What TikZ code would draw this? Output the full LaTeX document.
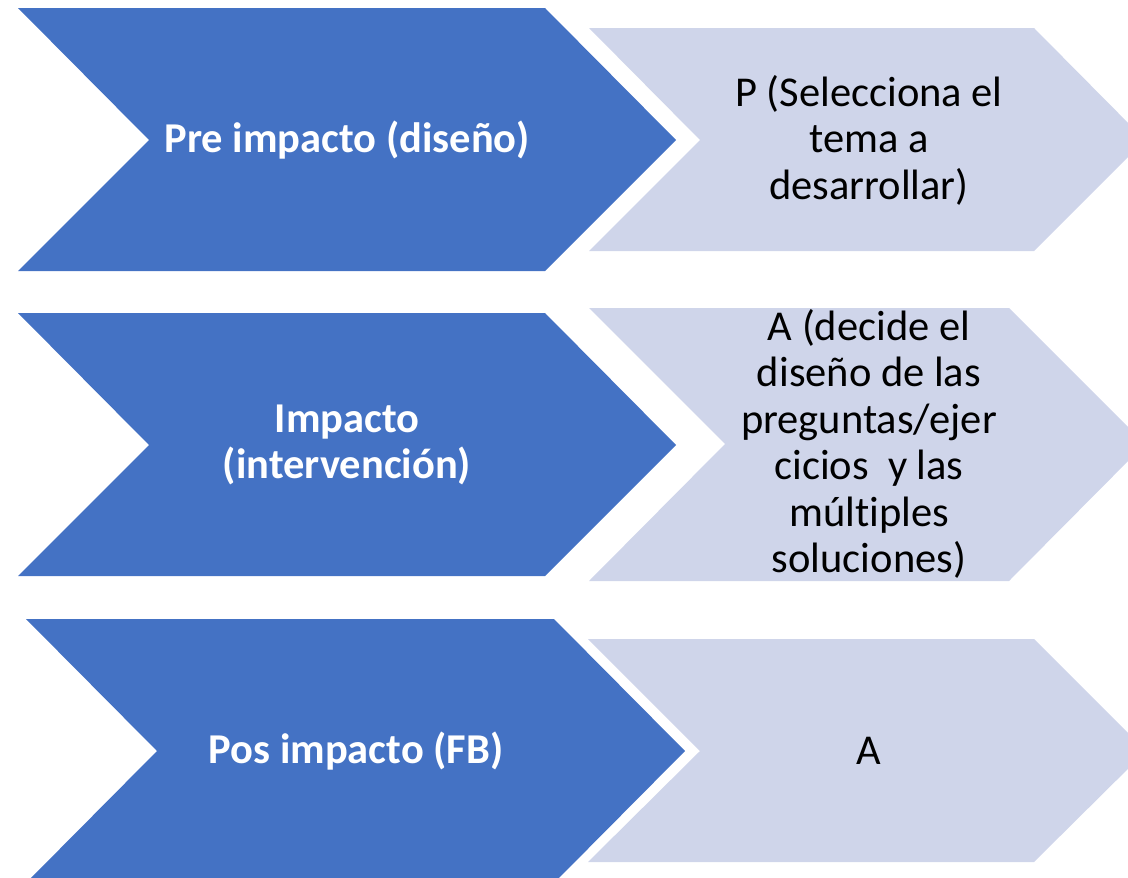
\documentclass[tikz,border=0pt]{standalone}
\usepackage{fontspec}
\setmainfont[Ligatures=NoCommon]{Carlito}
\definecolor{chevblue}{HTML}{4472C4}
\definecolor{chevlight}{HTML}{CFD5EA}
\tikzset{
  steptext/.style={font=\fontsize{42.5}{46.5}\selectfont, align=center, inner sep=0pt},
  phasetext/.style={steptext, font=\fontsize{42.5}{46.5}\selectfont\bfseries, text=white},
}
\begin{document}
\begin{tikzpicture}[x=1pt,y=-1pt]
  \useasboundingbox (0,0) rectangle (1128,878);
  \clip (0,0) rectangle (1128,878);

  % dark chevrons
  \fill[chevblue] (18,8)--(545,8)--(676,140)--(545,271)--(18,271)--(149,140)--cycle;
  \fill[chevblue] (18,313)--(545,313)--(676,445)--(545,576)--(18,576)--(149,445)--cycle;
  \fill[chevblue] (26,619)--(554,619)--(685,751)--(554,883)--(26,883)--(157,751)--cycle;

  % light chevrons
  \fill[chevlight] (589,28)--(1034,28)--(1145,140)--(1034,251)--(589,251)--(700,140)--cycle;
  \fill[chevlight] (589,308)--(1009,308)--(1145,444)--(1009,581)--(589,581)--(725,444)--cycle;
  \fill[chevlight] (588,639)--(1034,639)--(1146,751)--(1034,862)--(588,862)--(700,751)--cycle;

  \node[phasetext] at (347,140) (pre) {Pre impacto (diseño)};
  \node[phasetext] at (347,445) (imp) {Impacto\\(intervención)};
  \node[phasetext] at (356,751) (pos) {Pos impacto (FB)};
  \node[steptext] at (869,140) (selec) {P (Selecciona el\\tema a\\desarrollar)};
  \node[steptext] at (869,444) (decide) {A (decide el\\diseño de las\\preguntas/ejer\\cicios~ y las\\múltiples\\soluciones)};
  \node[steptext] at (869,751) (fb) {A};
\end{tikzpicture}
\end{document}
